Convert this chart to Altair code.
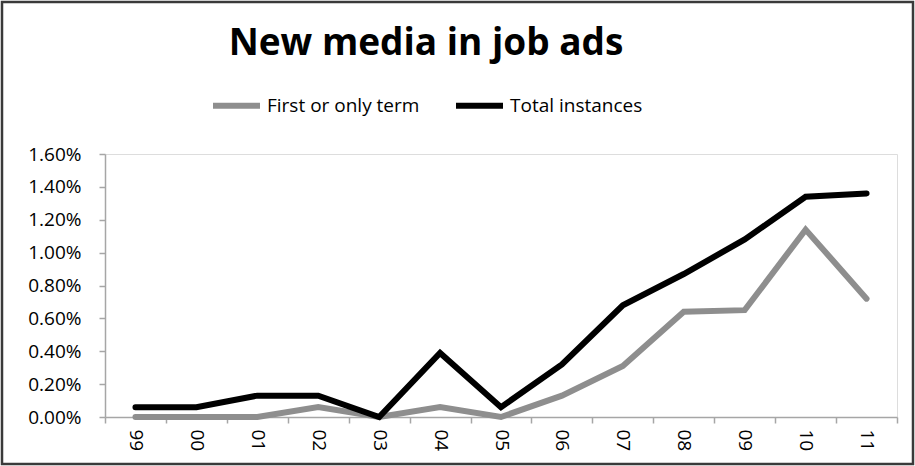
import altair as alt
import pandas as pd

years = ["99", "00", "01", "02", "03", "04", "05", "06", "07", "08", "09", "10", "11"]
first_term = [0.0000, 0.0000, 0.0000, 0.0006, 0.0000, 0.0006, 0.0000, 0.0013, 0.0031, 0.0064, 0.0065, 0.0114, 0.0072]
total_inst = [0.0006, 0.0006, 0.0013, 0.0013, 0.0000, 0.0039, 0.0006, 0.0032, 0.0068, 0.0087, 0.0108, 0.0134, 0.0136]
series_names = ["First or only term", "Total instances"]
series_colors = ["#8e8e8e", "#000000"]
y_ticks = [0, 0.002, 0.004, 0.006, 0.008, 0.010, 0.012, 0.014, 0.016]

rows = []
for i, y in enumerate(years):
    rows.append({"year": y, "order": i, "series": series_names[0], "value": first_term[i]})
for i, y in enumerate(years):
    rows.append({"year": y, "order": i, "series": series_names[1], "value": total_inst[i]})
df = pd.DataFrame(rows)

FONT = "Open Sans"
W, H = 792, 263

lines = alt.Chart(df).mark_line(strokeWidth=6, strokeCap="round", strokeJoin="miter").encode(
    x=alt.X("year:N", sort=years, bandPosition=0.5,
            scale=alt.Scale(type="band", paddingInner=0, paddingOuter=0),
            axis=alt.Axis(title=None, labelAngle=90, tickBand="extent", labelFontSize=19,
                          labelFont=FONT, labelColor="black", domainColor="#a6a6a6",
                          tickColor="#a6a6a6", tickSize=6, domainWidth=1.5, tickWidth=1.5,
                          labelPadding=6, grid=False)),
    y=alt.Y("value:Q", scale=alt.Scale(domain=[0, 0.016], nice=False),
            axis=alt.Axis(title=None, values=y_ticks, format=".2%", labelFontSize=19,
                          labelFont=FONT, labelColor="black", domainColor="#a6a6a6",
                          tickColor="#a6a6a6", tickSize=6, domainWidth=1.5, tickWidth=1.5,
                          labelPadding=18, grid=False)),
    color=alt.Color("series:N", sort=series_names,
                    scale=alt.Scale(domain=series_names, range=series_colors),
                    legend=alt.Legend(title=None, orient="none", direction="horizontal",
                                      legendX=105, legendY=-75, symbolType="stroke",
                                      symbolSize=2209, symbolStrokeWidth=6,
                                      labelFont=FONT, labelFontSize=19, labelColor="black",
                                      columnPadding=24, labelOffset=4)),
    order=alt.Order("order:Q"),
)

frame = alt.Chart(pd.DataFrame({"a": [0]})).mark_rect(
    fill=None, stroke="#3a3a3a", strokeWidth=2.5, clip=False
).encode(
    x=alt.value(-103), x2=alt.value(808), y=alt.value(-152), y2=alt.value(310)
)

chart = alt.layer(frame, lines).properties(
    width=W, height=H,
    title=alt.TitleParams("New media in job ads", font=FONT, fontSize=37, fontWeight="bold",
                          color="black", anchor="middle", dx=-75, offset=-62),
    autosize=alt.AutoSizeParams(type="none"),
    padding={"left": 105, "top": 154, "right": 18, "bottom": 49},
).configure_view(stroke=None).configure(background="white")

chart.save("out.html", embed_options={"renderer": "svg", "actions": False})
